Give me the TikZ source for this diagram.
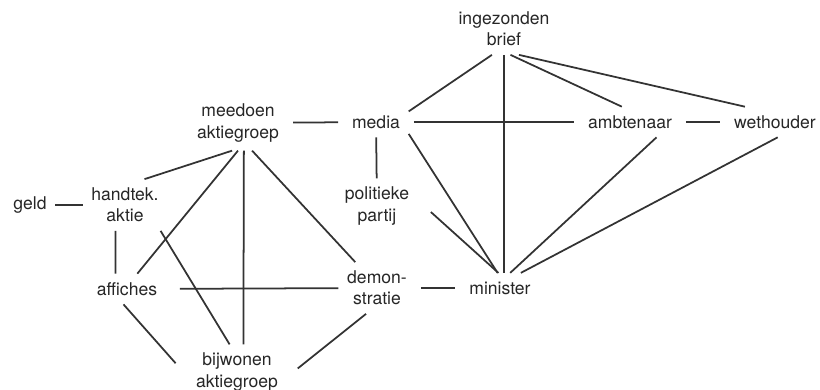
\documentclass[tikz,border=0pt]{standalone}
\usepackage{fontspec}
\setmainfont{TeX Gyre Heros}

\begin{document}
\begin{tikzpicture}
[x=0.02cm,y=-0.02cm,
term/.style={align=center,font=\fontsize{10}{12}\selectfont,text=black!85,inner sep=1pt,outer sep=4pt},
link/.style={draw=black!80,line width=1pt},
flat/.style={link,shorten <=3pt,shorten >=3pt}]
\useasboundingbox (0,0) rectangle (820,389);

\node (brief) at (504,29) [term] {ingezonden\\brief};
\node (meedoen) at (238,123) [term] {meedoen\\aktiegroep};
\node (media) at (376,122) [term] {media};
\node (ambtenaar) at (630,122) [term] {ambtenaar};
\node (wethouder) at (775,122) [term] {wethouder};
\node (geld) at (30,205) [term] {geld};
\node (handtek) at (125,205) [term] {handtek.\\aktie};
\node (politiek) at (377,206) [term] {politieke\\partij};
\node (affiches) at (127,289) [term] {affiches};
\node (demo) at (377,288) [term] {demon-\\stratie};
\node (minister) at (500,288) [term] {minister};
\node (bijwonen) at (237,372) [term] {bijwonen\\aktiegroep};

% horizontale verbindingen
\draw[link] (geld) -- (handtek);
\draw[flat] (meedoen) -- (media);
\draw[flat] (media) -- (ambtenaar);
\draw[flat] (ambtenaar) -- (wethouder);
\draw[link,shorten <=8pt] (affiches) -- (demo);
\draw[flat] (demo) -- (minister);

% rechter deel
\draw[link] (media.18) -- (brief.245);
\draw[link] (brief.south) -- (brief.south |- minister.north);
\draw[link] (brief.284) -- (ambtenaar.118);
\draw[link] (brief.300) -- (wethouder.153);
\draw[link] (media) -- (politiek);
\draw[link] (media.340) -- (minister.99);
\draw[link,shorten <=10pt] (politiek.8) -- (minister.96);
\draw[link] (ambtenaar.330) -- (minister.56);
\draw[link] (wethouder.280) -- (minister.36);

% linker deel
\draw[link] (meedoen.258) -- (handtek.53);
\draw[link] (meedoen.270) -- (affiches.56);
\draw[link] (meedoen.282) -- (bijwonen.77);
\draw[link] (meedoen.297) -- (demo.130);
\draw[link] (handtek.250) -- (affiches.127);
\draw[link] (handtek.324) -- (bijwonen.105);
\draw[link,shorten >=10pt] (affiches.257) -- (bijwonen.185);
\draw[link,shorten >=8pt] (demo.247) -- (bijwonen.354);
\end{tikzpicture}
\end{document}
